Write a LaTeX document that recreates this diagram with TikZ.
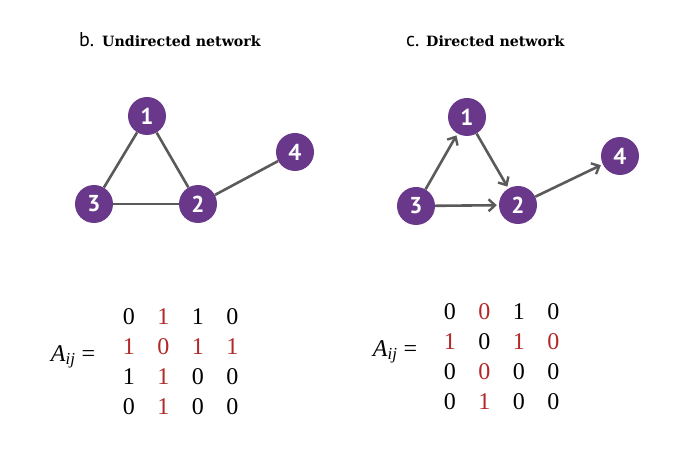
\documentclass[tikz,border=0pt]{standalone}
\usepackage{fontspec}
\setmainfont{Liberation Serif}
\newfontfamily\slabfont{DejaVu Serif}
\newfontfamily\labelfont{PT Sans}
\usetikzlibrary{arrows.meta,positioning,matrix}
\definecolor{nodepurple}{RGB}{106,56,138}
\definecolor{edgegrey}{RGB}{90,90,90}
\definecolor{entryred}{RGB}{178,40,40}

\begin{document}
\begin{tikzpicture}[
    x=1pt, y=-1pt,
    vertex/.style={circle, fill=nodepurple, minimum size=38pt, inner sep=0pt,
                   text=white, font=\labelfont\bfseries\fontsize{23}{23}\selectfont},
    edge/.style={draw=edgegrey, line width=2.6pt},
    arc/.style={edge, -{Straight Barb[length=6.5pt,width=12pt,line width=2.4pt]}, shorten >=2pt},
    title/.style={anchor=base west, inner sep=0pt},
    adj/.style={matrix of nodes, nodes={minimum width=34.5pt, minimum height=30pt, inner sep=0pt,
                anchor=center, font=\fontsize{24}{24}\selectfont}},
    red/.style={text=entryred}
]
\useasboundingbox (0,0) rectangle (683,454);

% titles
\node[title, font=\labelfont\fontsize{20}{20}\selectfont] (btag) at (79,47) {b.};
\node[title, font=\slabfont\bfseries\fontsize{14.2}{14.2}\selectfont] (btitle) at (102,47) {Undirected network};
\node[title, font=\labelfont\fontsize{20}{20}\selectfont] (ctag) at (406,47) {c.};
\node[title, font=\slabfont\bfseries\fontsize{14.2}{14.2}\selectfont] (ctitle) at (426,47) {Directed network};

% undirected network
\node[vertex] (u1) at (147,116) {1};
\node[vertex] (u2) at (198,204) {2};
\node[vertex] (u3) at (94,204) {3};
\node[vertex] (u4) at (295,152) {4};

\draw[edge] (u1) -- (u3);
\draw[edge] (u1) -- (u2);
\draw[edge] (u3) -- (u2);
\draw[edge] (u2) -- (u4);

% directed network
\node[vertex] (d1) at (467,117) {1};
\node[vertex] (d2) at (518,205) {2};
\node[vertex] (d3) at (416,206) {3};
\node[vertex] (d4) at (620,156) {4};

\draw[arc] (d3) -- (d1);
\draw[arc] (d1) -- (d2);
\draw[arc] (d3) -- (d2);
\draw[arc] (d2) -- (d4);

% adjacency matrices
\node[font=\fontsize{24}{24}\selectfont] (ulabel) at (73,357) {\textit{A}\textsubscript{\textit{ij}} =};
\matrix[adj] (umat) at (180.5,362) {
  0 & |[red]| 1 & 1 & 0 \\
  |[red]| 1 & |[red]| 0 & |[red]| 1 & |[red]| 1 \\
  1 & |[red]| 1 & 0 & 0 \\
  0 & |[red]| 1 & 0 & 0 \\
};

\node[font=\fontsize{24}{24}\selectfont] (dlabel) at (395,352) {\textit{A}\textsubscript{\textit{ij}} =};
\matrix[adj] (dmat) at (501.5,356.5) {
  0 & |[red]| 0 & 1 & 0 \\
  |[red]| 1 & 0 & |[red]| 1 & |[red]| 0 \\
  0 & |[red]| 0 & 0 & 0 \\
  0 & |[red]| 1 & 0 & 0 \\
};

\end{tikzpicture}
\end{document}
